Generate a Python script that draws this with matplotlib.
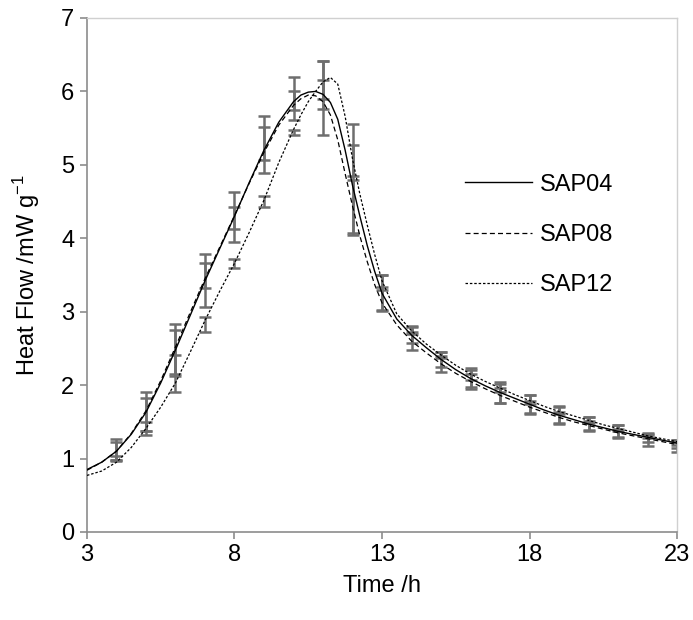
"""
Heat flow curves of SAP04 / SAP08 / SAP12 with error bars
"""

import matplotlib.pyplot as plt

plt.rcParams['font.family'] = ['Liberation Sans', 'DejaVu Sans']

# curve samples (time /h)
time_h = [3, 3.5, 4, 4.5, 5, 5.5, 6, 6.5, 7, 7.5, 8, 8.5, 9, 9.5,
          10, 10.25, 10.5, 10.75, 11, 11.25, 11.5, 11.75, 12, 12.25, 12.5, 12.75, 13,
          13.5, 14, 14.5, 15, 15.5, 16, 16.5, 17, 17.5, 18, 18.5, 19, 19.5,
          20, 20.5, 21, 21.5, 22, 22.5, 23]

sap04 = [0.85, 0.95, 1.1, 1.33, 1.63, 2.03, 2.48, 2.95, 3.42, 3.86, 4.3, 4.76, 5.2, 5.58,
         5.86, 5.95, 5.99, 6.0, 5.96, 5.85, 5.62, 5.2, 4.72, 4.3, 3.9, 3.55, 3.25,
         2.9, 2.68, 2.51, 2.35, 2.21, 2.09, 1.99, 1.9, 1.82, 1.74, 1.66, 1.59, 1.53,
         1.47, 1.42, 1.37, 1.33, 1.29, 1.25, 1.21]

sap08 = [0.84, 0.95, 1.1, 1.34, 1.65, 2.06, 2.52, 2.99, 3.45, 3.88, 4.31, 4.75, 5.17, 5.54,
         5.81, 5.9, 5.95, 5.94, 5.86, 5.68, 5.34, 4.88, 4.44, 4.03, 3.68, 3.37, 3.12,
         2.82, 2.6, 2.44, 2.29, 2.16, 2.05, 1.95, 1.86, 1.78, 1.7, 1.63, 1.56, 1.5,
         1.45, 1.4, 1.35, 1.31, 1.27, 1.23, 1.19]

sap12 = [0.77, 0.83, 0.95, 1.15, 1.41, 1.7, 2.03, 2.45, 2.88, 3.28, 3.66, 4.08, 4.52, 5.03,
         5.48, 5.68, 5.86, 6.0, 6.13, 6.19, 6.1, 5.66, 5.08, 4.6, 4.18, 3.78, 3.42,
         2.97, 2.74, 2.56, 2.41, 2.27, 2.15, 2.05, 1.96, 1.87, 1.79, 1.71, 1.64, 1.58,
         1.52, 1.46, 1.41, 1.36, 1.31, 1.27, 1.23]

# error bar points (hourly)
err_h = list(range(4, 24))

sap04_mean = [1.1, 1.64, 2.48, 3.42, 4.29, 5.37, 5.9, 5.91, 4.8, 3.26,
              2.68, 2.35, 2.09, 1.9, 1.74, 1.59, 1.47, 1.37, 1.26, 1.17]
sap04_err = [0.12, 0.27, 0.35, 0.36, 0.34, 0.3, 0.29, 0.51, 0.75, 0.24,
             0.11, 0.1, 0.11, 0.14, 0.13, 0.12, 0.1, 0.09, 0.09, 0.08]

sap08_mean = [1.12, 1.6, 2.45, 3.49, 4.28, 5.2, 5.875, 5.96, 4.43, 3.15,
              2.6, 2.29, 2.05, 1.86, 1.7, 1.56, 1.45, 1.35, 1.27, 1.19]
sap08_err = [0.14, 0.22, 0.3, 0.17, 0.15, 0.31, 0.125, 0.2, 0.36, 0.14,
             0.12, 0.11, 0.1, 0.1, 0.08, 0.07, 0.06, 0.05, 0.05, 0.04]

sap12_mean = [1.0, 1.41, 2.16, 2.83, 3.66, 4.5, 5.435, 6.16, 5.06, 3.42,
              2.75, 2.41, 2.15, 1.96, 1.8, 1.65, 1.52, 1.41, 1.31, 1.22]
sap12_err = [0.04, 0.09, 0.25, 0.1, 0.06, 0.08, 0.035, 0.26, 0.21, 0.08,
             0.05, 0.04, 0.08, 0.05, 0.06, 0.05, 0.04, 0.04, 0.03, 0.03]


if __name__ == "__main__":

    fig = plt.figure(figsize=(6.93, 6.2), dpi=100)
    ax = fig.add_axes([0.1255, 0.142, 0.8515, 0.829])

    bar_kw = dict(fmt='none', ecolor='#6e6e6e', elinewidth=1.8, capsize=4.5,
                  capthick=1.8, zorder=2)
    ax.errorbar(err_h, sap04_mean, yerr=sap04_err, **bar_kw)
    ax.errorbar(err_h, sap08_mean, yerr=sap08_err, **bar_kw)
    ax.errorbar(err_h, sap12_mean, yerr=sap12_err, **bar_kw)

    ax.plot(time_h, sap04, color='black', lw=1.0, label='SAP04', zorder=3)
    ax.plot(time_h, sap08, color='black', lw=0.9, dashes=(4, 2.5), label='SAP08', zorder=3)
    ax.plot(time_h, sap12, color='black', lw=0.9, dashes=(2, 1.5), label='SAP12', zorder=3)

    ax.set_xlim(3, 23)
    ax.set_ylim(0, 7)
    ax.set_xticks([3, 8, 13, 18, 23])
    ax.set_yticks(range(0, 8))

    for s in ['left', 'bottom']:
        ax.spines[s].set_color('#8c8c8c')
        ax.spines[s].set_linewidth(1.2)
    for s in ['top', 'right']:
        ax.spines[s].set_color('#d0d0d0')
        ax.spines[s].set_linewidth(1.0)
    ax.tick_params(direction='out', length=5, width=1.2, color='#8c8c8c',
                   labelsize=17, pad=4)

    ax.set_xlabel('Time /h', fontsize=17, labelpad=6)
    ax.set_ylabel('Heat Flow /mW g$^{\\mathregular{-1}}$', fontsize=17, labelpad=14)

    ax.legend(loc='upper left', bbox_to_anchor=(0.62, 0.72), frameon=False,
              fontsize=17, handlelength=2.85, handletextpad=0.35, labelspacing=1.2,
              borderpad=0)

    fig.savefig('out.png', dpi=100)
